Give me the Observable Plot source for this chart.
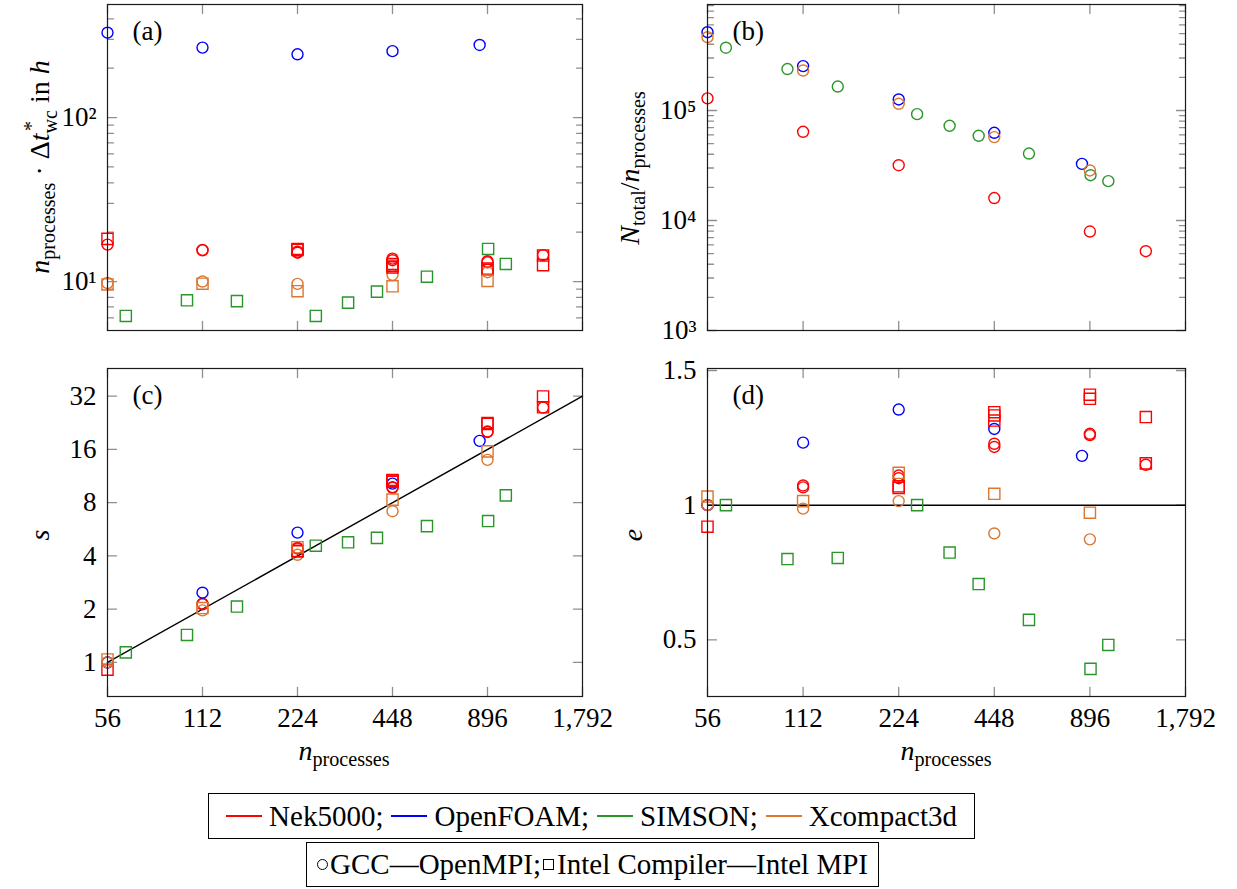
<!DOCTYPE html>
<html>
<head>
<meta charset="utf-8">
<script src="https://cdn.jsdelivr.net/npm/d3@7"></script>
<script src="https://cdn.jsdelivr.net/npm/@observablehq/plot@0.6"></script>
<style>
  body { margin: 0; background: #fff; }
  #fig { position: relative; width: 1237px; height: 889px; overflow: hidden;
         font-family: "Liberation Serif", "Times New Roman", serif; color: #000; }
  #fig svg { position: absolute; overflow: visible; }
  #fig svg text { font-family: "Liberation Serif", "Times New Roman", serif !important; font-variant: normal !important; }
  .lab { position: absolute; font-size: 28px; white-space: nowrap; line-height: 1; }
  .lab sub { font-size: 0.72em; vertical-align: -0.28em; line-height: 0; }
  .rot { transform: translate(-50%, -50%) rotate(-90deg); }
  .hc { transform: translateX(-50%); }
  .ss { position: relative; display: inline-block; font-size: 0.72em; }
  .ss .sb { position: relative; top: 0.38em; }
  .ss .sp { position: absolute; left: 0.12em; top: -0.55em; }
  .legbox { position: absolute; border: 1.2px solid #000; box-sizing: border-box;
            display: flex; align-items: center; justify-content: center;
            font-size: 29px; white-space: nowrap; }
  .sw { display: inline-block; width: 36px; height: 0; border-top: 2px solid; margin: 0 7px 0 0; vertical-align: middle; }
  .gap { display: inline-block; width: 8px; }
  .mc { display: inline-block; width: 9px; height: 9px; border: 1.3px solid #000; border-radius: 50%; margin-right: 2px; vertical-align: middle; }
  .ms { display: inline-block; width: 9px; height: 9px; border: 1.3px solid #000; margin: 0 3px 0 2px; vertical-align: middle; }
</style>
</head>
<body>
<div id="fig"></div>
<script>
// ---------- categories, colours, ticks ----------
const codes = ["Nek5000", "OpenFOAM", "SIMSON", "Xcompact3d"];
const codeColors = ["#ff0000", "#0000ff", "#2a962a", "#dc7630"];
const toolchains = ["GCC—OpenMPI", "Intel Compiler—Intel MPI"];
const xTicks = [56, 112, 224, 448, 896, 1792];
const xTickLabels = ["56", "112", "224", "448", "896", "1,792"];

const aTicks = [10, 100];
const aTickLabels = ["10¹", "10²"];
const aMinor = [6, 7, 8, 9, 20, 30, 40, 50, 60, 70, 80, 90, 200, 300, 400];
const bTicks = [1e3, 1e4, 1e5];
const bTickLabels = ["10³", "10⁴", "10⁵"];
const bMinor = [2e3, 3e3, 4e3, 5e3, 6e3, 7e3, 8e3, 9e3, 2e4, 3e4, 4e4, 5e4, 6e4, 7e4, 8e4, 9e4,
                2e5, 3e5, 4e5, 5e5, 6e5, 7e5, 8e5, 9e5];
const cTicks = [1, 2, 4, 8, 16, 32];
const cTickLabels = ["1", "2", "4", "8", "16", "32"];
const dTicks = [0.5, 1, 1.5];
const dTickLabels = ["0.5", "1", "1.5"];

// ---------- (a) n_processes * dt*_wc in h ----------
const aNekGccN   = [56, 112, 112, 224, 224, 448, 448, 896, 896, 1344];
const aNekGcc    = [16.8, 15.6, 15.5, 15.2, 15.0, 13.8, 13.5, 13.3, 13.1, 14.5];
const aNekIntN   = [56, 224, 224, 448, 448, 448, 896, 896, 1344, 1344];
const aNekInt    = [18.2, 15.8, 15.6, 12.8, 12.5, 12.2, 12.0, 11.8, 14.4, 12.6];
const aFoamGccN  = [56, 112, 224, 448, 846];
const aFoamGcc   = [329, 267, 243, 254, 277];
const aSimIntN   = [64, 100, 144, 256, 324, 400, 576, 900, 1024];
const aSimInt    = [6.17, 7.69, 7.6, 6.17, 7.44, 8.68, 10.7, 15.8, 12.8];
const aXcGccN    = [56, 112, 224, 448, 896];
const aXcGcc     = [9.8, 10.0, 9.68, 10.99, 11.4];
const aXcIntN    = [56, 112, 224, 448, 896];
const aXcInt     = [9.6, 9.7, 8.73, 9.36, 10.1];

// ---------- (b) N_total / n_processes ----------
const bNekN  = [56, 112, 224, 448, 896, 1344];
const bNek   = [129000, 64000, 31800, 16000, 7940, 5260];
const bFoamN = [56, 112, 224, 448, 846];
const bFoam  = [515000, 253000, 126000, 62700, 32700];
const bSimN  = [64, 100, 144, 256, 324, 400, 576, 900, 1024];
const bSim   = [372000, 238000, 165000, 92600, 72600, 58900, 40600, 25800, 22800];
const bXcN   = [56, 112, 224, 448, 896];
const bXc    = [464000, 231000, 115000, 57300, 28500];

// ---------- (c) speed-up s ----------
const cNekGcc  = [1.0, 2.15, 2.13, 4.44, 4.40, 9.8, 9.7, 20.2, 20.1, 27.6];
const cNekInt  = [0.91, 4.28, 4.24, 10.76, 10.66, 10.5, 22.6, 22.3, 31.9, 27.7];
const cFoamGcc = [1.0, 2.48, 5.42, 10.26, 17.9];
const cSimInt  = [1.14, 1.43, 2.07, 4.57, 4.78, 5.06, 5.9, 6.3, 8.8];
const cXcGcc   = [1.0, 1.97, 4.06, 7.16, 13.97];
const cXcInt   = [1.04, 2.03, 4.48, 8.33, 15.6];
const idealN = [56, 1792];
const idealS = [1, 32];

// ---------- (d) efficiency e ----------
const dNekGcc  = [1.0, 1.073, 1.066, 1.11, 1.10, 1.228, 1.216, 1.265, 1.26, 1.15];
const dNekInt  = [0.92, 1.07, 1.064, 1.345, 1.333, 1.314, 1.41, 1.395, 1.327, 1.155];
const dFoamGcc = [1.0, 1.232, 1.355, 1.283, 1.183];
const dSimInt  = [1.0, 0.80, 0.804, 1.0, 0.824, 0.707, 0.574, 0.392, 0.481];
const dXcGcc   = [1.0, 0.987, 1.015, 0.895, 0.873];
const dXcInt   = [1.032, 1.015, 1.12, 1.042, 0.972];
const idealE = [1];

// ---------- build tables ----------
const rows = (code, tool, ns, vs) => ns.map((n, i) => ({code, tool, n, v: vs[i]}));
const dataA = [
  ...rows(codes[0], toolchains[0], aNekGccN, aNekGcc), ...rows(codes[0], toolchains[1], aNekIntN, aNekInt),
  ...rows(codes[1], toolchains[0], aFoamGccN, aFoamGcc), ...rows(codes[2], toolchains[1], aSimIntN, aSimInt),
  ...rows(codes[3], toolchains[0], aXcGccN, aXcGcc), ...rows(codes[3], toolchains[1], aXcIntN, aXcInt)];
const dataB = [
  ...rows(codes[0], toolchains[0], bNekN, bNek), ...rows(codes[1], toolchains[0], bFoamN, bFoam),
  ...rows(codes[2], toolchains[0], bSimN, bSim), ...rows(codes[3], toolchains[0], bXcN, bXc)];
const dataC = [
  ...rows(codes[0], toolchains[0], aNekGccN, cNekGcc), ...rows(codes[0], toolchains[1], aNekIntN, cNekInt),
  ...rows(codes[1], toolchains[0], aFoamGccN, cFoamGcc), ...rows(codes[2], toolchains[1], aSimIntN, cSimInt),
  ...rows(codes[3], toolchains[0], aXcGccN, cXcGcc), ...rows(codes[3], toolchains[1], aXcIntN, cXcInt)];
const dataD = [
  ...rows(codes[0], toolchains[0], aNekGccN, dNekGcc), ...rows(codes[0], toolchains[1], aNekIntN, dNekInt),
  ...rows(codes[1], toolchains[0], aFoamGccN, dFoamGcc), ...rows(codes[2], toolchains[1], aSimIntN, dSimInt),
  ...rows(codes[3], toolchains[0], aXcGccN, dXcGcc), ...rows(codes[3], toolchains[1], aXcIntN, dXcInt)];
const idealLine = idealN.map((n, i) => ({n, v: idealS[i]}));

// ---------- drawing ----------
const FS = 27;
const FONT = "Liberation Serif";
const TICK = "#8f8f8f";
const fig = document.getElementById("fig");
const tickShape = {draw(ctx, l) { ctx.moveTo(0, 0); ctx.lineTo(0, -l); }};
const tk = (data, o) => Plot.vector(data, {anchor: "start", shape: tickShape, stroke: TICK, strokeWidth: 1.3, ...o});

function panel(f, o) {
  const ML = 100, MR = 20, MT = 12, MB = 60;
  const marks = [
    tk(xTicks, {x: d => d, frameAnchor: "bottom", rotate: 0, length: 9}),
    tk(xTicks, {x: d => d, frameAnchor: "top", rotate: 180, length: 9}),
    tk(o.yTicks, {y: d => d, frameAnchor: "left", rotate: 90, length: 9}),
    tk(o.yTicks, {y: d => d, frameAnchor: "right", rotate: -90, length: 9})
  ];
  if (o.yMinor) {
    marks.push(tk(o.yMinor, {y: d => d, frameAnchor: "left", rotate: 90, length: 6}));
    marks.push(tk(o.yMinor, {y: d => d, frameAnchor: "right", rotate: -90, length: 6}));
  }
  if (o.xLabels) marks.push(Plot.text(xTicks, {x: d => d, text: (d, i) => xTickLabels[i],
    frameAnchor: "bottom", dy: 11, lineAnchor: "top", textAnchor: "middle",
    fontSize: FS, fontFamily: FONT, fill: "#000"}));
  marks.push(Plot.text(o.yTicks, {y: d => d, text: (d, i) => o.yLabels[i],
    frameAnchor: "left", dx: -11, lineAnchor: "middle", textAnchor: "end",
    fontSize: FS, fontFamily: FONT, fill: "#000"}));
  if (o.extra) marks.push(...o.extra);
  marks.push(Plot.dot(o.data.filter(d => d.tool === toolchains[0]),
    {x: "n", y: "v", stroke: "code", symbol: "circle", r: 5.5, strokeWidth: 1.4, fill: "none"}));
  marks.push(Plot.dot(o.data.filter(d => d.tool === toolchains[1]),
    {x: "n", y: "v", stroke: "code", symbol: "square", r: 6.3, strokeWidth: 1.4, fill: "none"}));
  marks.push(Plot.frame({stroke: "#1a1a1a", strokeWidth: 1.2}));
  marks.push(Plot.text([o.label], {text: d => d, frameAnchor: "top-left", dx: 25, dy: 27,
    textAnchor: "start", lineAnchor: "middle", fontSize: FS, fontFamily: FONT, fill: "#000"}));
  const svg = Plot.plot({
    width: f.W + ML + MR, height: f.H + MT + MB,
    marginLeft: ML, marginRight: MR, marginTop: MT, marginBottom: MB,
    style: {fontFamily: FONT, fontSize: FS + "px", background: "transparent", overflow: "visible", color: "#000"},
    x: {type: "log", domain: [56, 1792], axis: null},
    y: {...o.y, axis: null},
    color: {domain: codes, range: codeColors},
    marks
  });
  svg.style.left = (f.L - ML) + "px";
  svg.style.top = (f.T - MT) + "px";
  fig.appendChild(svg);
}

panel({L: 107, T: 4, W: 475, H: 326}, {
  data: dataA, label: "(a)", yTicks: aTicks, yMinor: aMinor, yLabels: aTickLabels,
  y: {type: "log", domain: [5.03, 489]}, xLabels: false
});
panel({L: 707, T: 4, W: 478, H: 326}, {
  data: dataB, label: "(b)", yTicks: bTicks, yMinor: bMinor, yLabels: bTickLabels,
  y: {type: "log", domain: [1000, 919600]}, xLabels: false
});
panel({L: 107, T: 368, W: 475, H: 328}, {
  data: dataC, label: "(c)", yTicks: cTicks, yLabels: cTickLabels,
  y: {type: "log", base: 2, domain: [0.642, 45.9]}, xLabels: true,
  extra: [Plot.line(idealLine, {x: "n", y: "v", stroke: "#000", strokeWidth: 1.4})]
});
panel({L: 707, T: 368, W: 478, H: 328}, {
  data: dataD, label: "(d)", yTicks: dTicks, yLabels: dTickLabels,
  y: {type: "linear", domain: [0.2895, 1.5074]}, xLabels: true,
  extra: [Plot.ruleY(idealE, {stroke: "#000", strokeWidth: 1.5})]
});

// ---------- axis titles ----------
function addLabel(html, cls, css) {
  const el = document.createElement("div");
  el.className = "lab " + cls;
  el.innerHTML = html;
  Object.assign(el.style, css);
  fig.appendChild(el);
}
addLabel('<i>n</i><sub>processes</sub> · Δ<i>t</i><span class="ss"><span class="sb">wc</span><span class="sp">*</span></span> in <i>h</i>',
  "rot", {left: "40px", top: "167px"});
addLabel('<i>N</i><sub>total</sub>/<i>n</i><sub>processes</sub>', "rot", {left: "630px", top: "168px"});
addLabel('<i>s</i>', "rot", {left: "40px", top: "535px"});
addLabel('<i>e</i>', "rot", {left: "633px", top: "535px"});
addLabel('<i>n</i><sub>processes</sub>', "hc", {left: "344px", top: "737px"});
addLabel('<i>n</i><sub>processes</sub>', "hc", {left: "946px", top: "737px"});

// ---------- legend ----------
const leg1 = document.createElement("div");
leg1.className = "legbox";
Object.assign(leg1.style, {left: "208px", top: "793px", width: "767px", height: "46px"});
leg1.innerHTML = codes.map((c, i) =>
  `<span class="sw" style="border-color:${codeColors[i]}"></span>${c}${i < codes.length - 1 ? ";" : ""}`
).join('<span class="gap"></span>');
fig.appendChild(leg1);

const leg2 = document.createElement("div");
leg2.className = "legbox";
Object.assign(leg2.style, {left: "306px", top: "842px", width: "573px", height: "45px"});
leg2.innerHTML = `<span class="mc"></span>${toolchains[0]};<span class="ms"></span>${toolchains[1]}`;
fig.appendChild(leg2);
</script>
</body>
</html>
